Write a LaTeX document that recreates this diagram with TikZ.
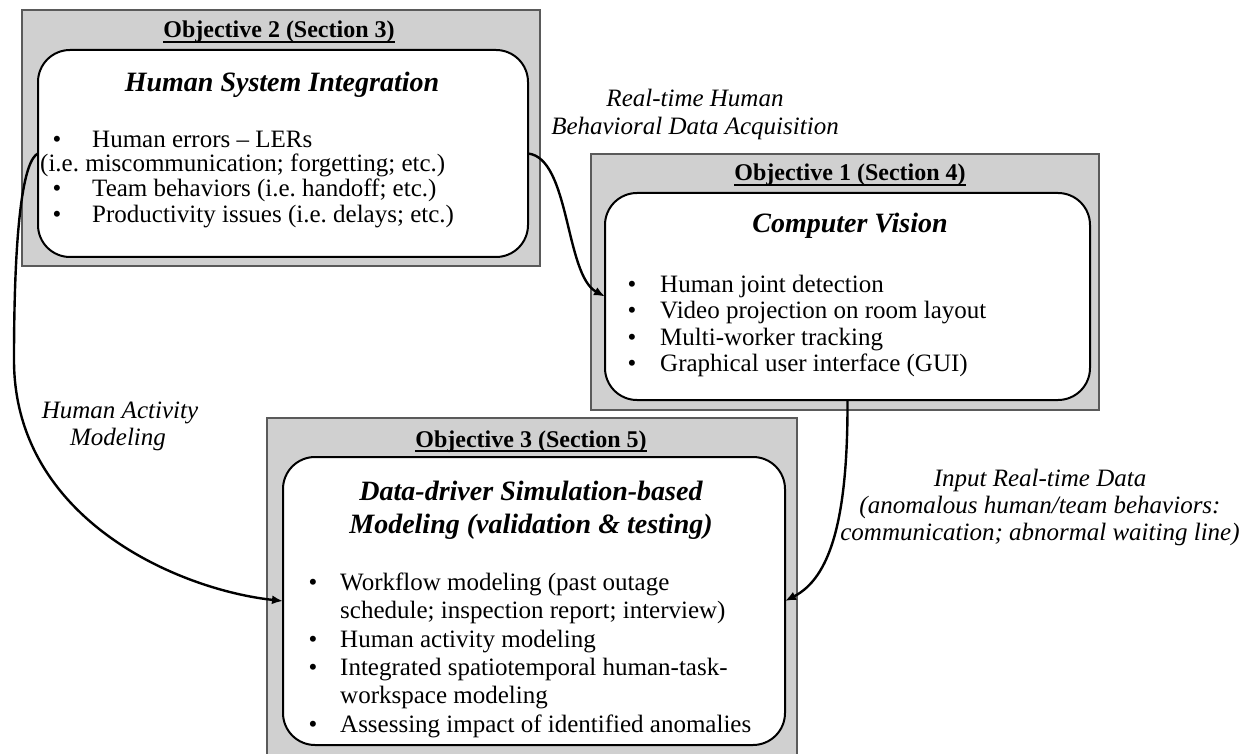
\documentclass[tikz,border=0pt]{standalone}
\usepackage{fontspec}
\setmainfont{Liberation Serif}
\usetikzlibrary{arrows.meta}
\definecolor{panelgray}{RGB}{208,208,208}
\definecolor{panelrule}{RGB}{90,90,90}
\frenchspacing
% bold title with a rule drawn just under the baseline
\newcommand\undertitle[1]{\setbox0\hbox{#1}\rlap{\vrule height -3pt depth 4.6pt width \wd0}\box0}
\begin{document}
\begin{tikzpicture}[x=1pt,y=-1pt,
  panel/.style={draw=panelrule, line width=1.3pt, fill=panelgray, inner sep=0pt, outer sep=0pt, anchor=north west},
  card/.style={draw=black, line width=2pt, fill=white, rounded corners=32pt, inner sep=0pt, outer sep=0pt, anchor=north west},
  heading/.style={font=\fontsize{24}{26}\selectfont\bfseries, anchor=base, inner sep=0pt},
  topic/.style={font=\fontsize{28}{31}\selectfont\bfseries\itshape, anchor=base, inner sep=0pt},
  item/.style={font=\fontsize{25}{26}\selectfont, anchor=base west, inner sep=0pt},
  dot/.style={font=\fontsize{25}{26}\selectfont, anchor=base, inner sep=0pt},
  flowlabel/.style={font=\fontsize{25}{27}\selectfont\itshape, anchor=base, inner sep=0pt},
  flow/.style={line width=2.4pt, -{Latex[length=11pt,width=9pt]}}]
\useasboundingbox (0,0) rectangle (1251,754);

% panels
\node[panel, minimum width=518pt, minimum height=256pt] (o2) at (22,10) {};
\node[card,  minimum width=490pt, minimum height=207pt] (c2) at (38,50) {};
\node[panel, minimum width=508pt, minimum height=256pt] (o1) at (591,154) {};
\node[card,  minimum width=485pt, minimum height=207pt] (c1) at (605,193) {};
\node[panel, minimum width=530pt, minimum height=345pt] (o3) at (267,418) {};
\node[card,  minimum width=502pt, minimum height=288pt] (c3) at (283,457) {};

% Objective 2
\node[heading] (h2) at (279,38) {\undertitle{Objective 2 (Section 3)}};
\node[topic] (t2) at (282,92) {Human System Integration};
\node[dot] (d2a) at (57,148) {•};
\node[item] (l2a) at (92,148) {Human errors – LERs};
\node[item] (l2b) at (40,172) {(i.e. miscommunication; forgetting; etc.)};
\node[dot] (d2c) at (57,197) {•};
\node[item] (l2c) at (92,197) {Team behaviors (i.e. handoff; etc.)};
\node[dot] (d2d) at (57,223) {•};
\node[item] (l2d) at (92,223) {Productivity issues (i.e. delays; etc.)};

% Objective 1
\node[heading] (h1) at (850,181) {\undertitle{Objective 1 (Section 4)}};
\node[topic] (t1) at (850,233) {Computer Vision};
\node[dot] (d1a) at (632,292) {•};
\node[item] (l1a) at (660,292) {Human joint detection};
\node[dot] (d1b) at (632,319) {•};
\node[item] (l1b) at (660,319) {Video projection on room layout};
\node[dot] (d1c) at (632,345) {•};
\node[item] (l1c) at (660,345) {Multi-worker tracking};
\node[dot] (d1d) at (632,371) {•};
\node[item] (l1d) at (660,371) {Graphical user interface (GUI)};

% Objective 3
\node[heading] (h3) at (531,447) {\undertitle{Objective 3 (Section 5)}};
\node[topic] (t3a) at (531,500) {Data-driver Simulation-based};
\node[topic] (t3b) at (531,533) {Modeling (validation \& testing)};
\node[dot] (d3a) at (313,590) {•};
\node[item] (l3a) at (340,590) {Workflow modeling (past outage};
\node[item] (l3b) at (340,618) {schedule; inspection report; interview)};
\node[dot] (d3c) at (313,647) {•};
\node[item] (l3c) at (340,647) {Human activity modeling};
\node[dot] (d3d) at (313,675) {•};
\node[item] (l3d) at (340,675) {Integrated spatiotemporal human-task-};
\node[item] (l3e) at (340,703) {workspace modeling};
\node[dot] (d3f) at (313,732) {•};
\node[item] (l3f) at (340,732) {Assessing impact of identified anomalies};

% connector labels
\node[flowlabel] (a1) at (695,107) {Real-time Human};
\node[flowlabel] (a2) at (695,135) {Behavioral Data Acquisition};
\node[flowlabel] (b1) at (120,418) {Human Activity};
\node[flowlabel] (b2) at (118,445) {Modeling};
\node[flowlabel] (e1) at (1040,486) {Input Real-time Data};
\node[flowlabel] (e2) at (1040,513) {(anomalous human/team behaviors:};
\node[flowlabel] (e3) at (1040,540) {communication; abnormal waiting line)};

% connectors
\draw[flow] (c2.east) .. controls (570,158) and (565,275) .. (c1.west);
\draw[flow] (c2.west) .. controls (24,160) and (14,220) .. (14,360)
                      .. controls (14,520) and (180,590) .. (c3.west);
\draw[flow] (c1.south) .. controls (848,520) and (830,578) .. (c3.east);
\end{tikzpicture}
\end{document}
